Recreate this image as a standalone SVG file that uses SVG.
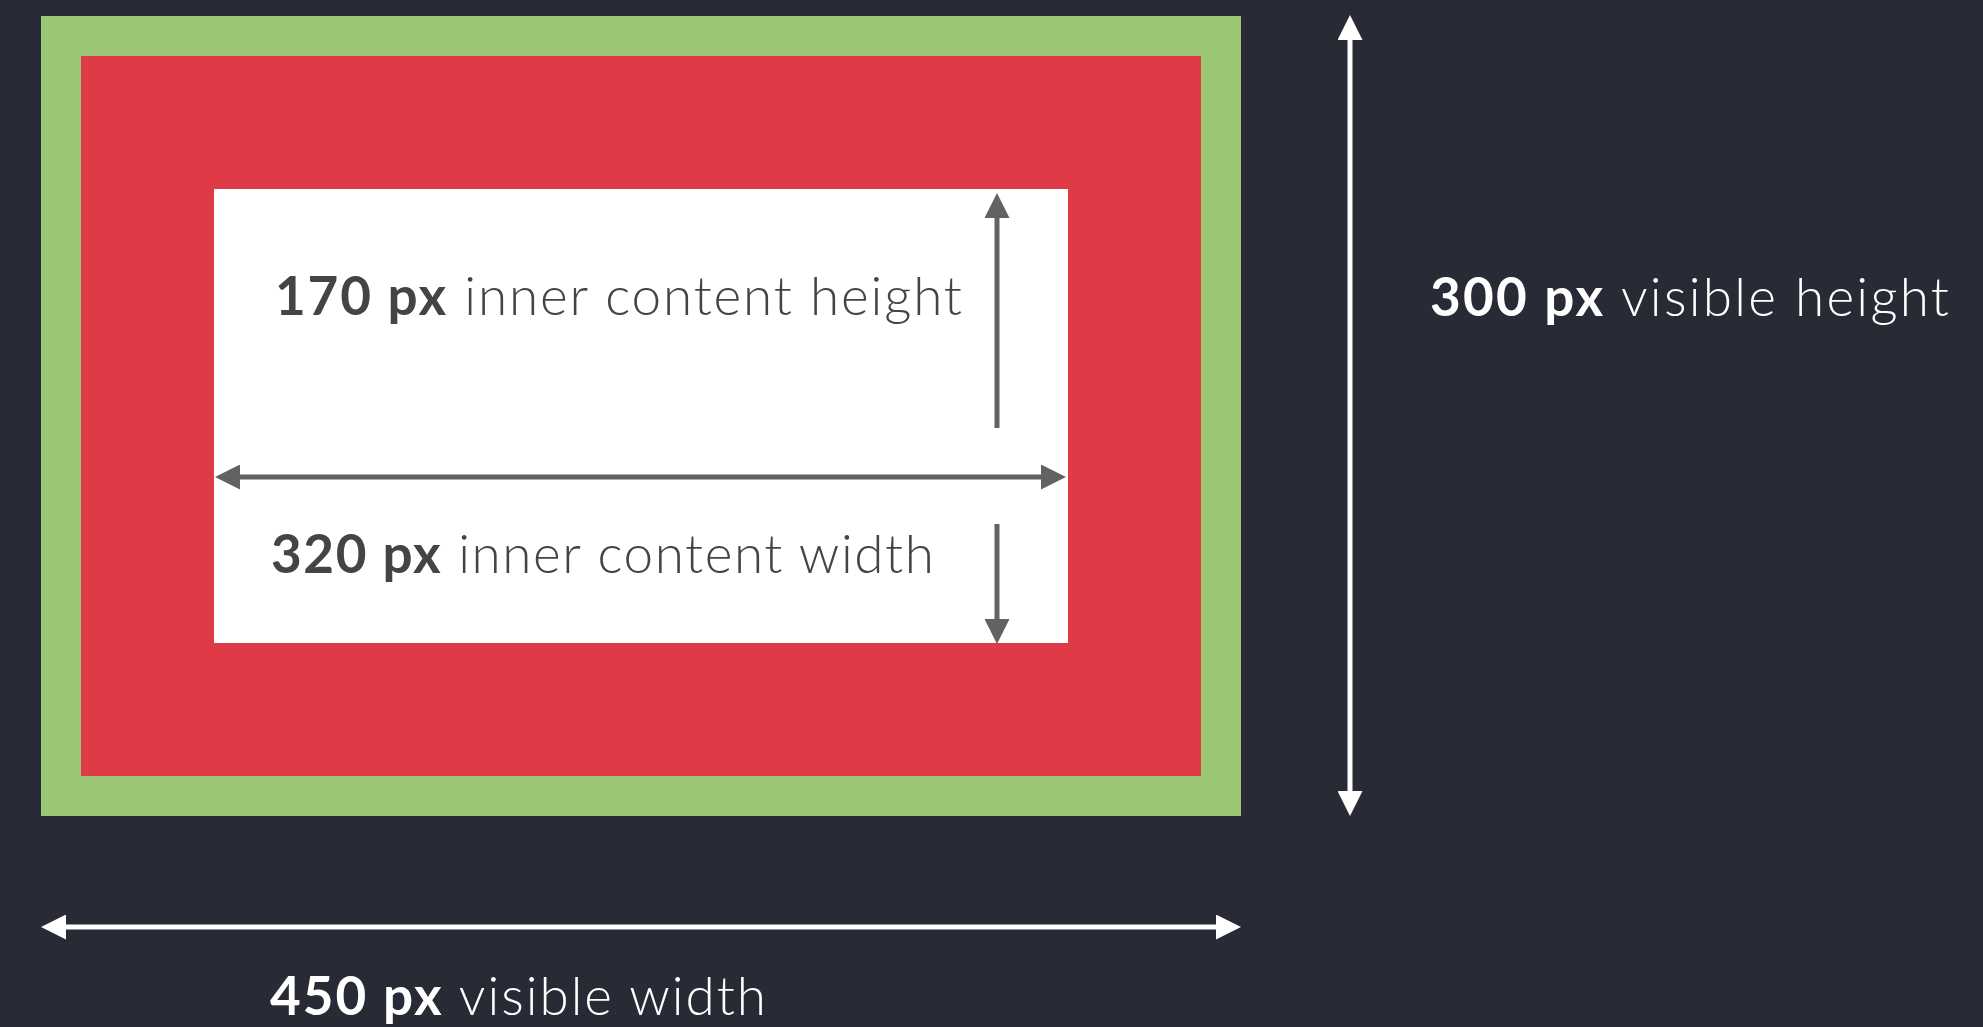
<svg xmlns="http://www.w3.org/2000/svg" width="1983" height="1027" viewBox="0 0 1983 1027">
  <style>
    .lbl { font-family: "Lato", "Noto Sans", "Liberation Sans", sans-serif; font-size: 53px; font-weight: 300; }
    .b { font-weight: 700; }
    .dark { fill: #444444; }
    .light { fill: #ffffff; }
    .ga { stroke: #626262; stroke-width: 5; fill: none; }
    .wa { stroke: #ffffff; stroke-width: 5; fill: none; }
  </style>
  <defs>
    <marker id="gh" markerUnits="userSpaceOnUse" markerWidth="25" markerHeight="25" refX="0" refY="12.5" orient="auto-start-reverse" viewBox="0 0 25 25">
      <path d="M0,0 L25,12.5 L0,25 Z" fill="#626262"/>
    </marker>
    <marker id="wh" markerUnits="userSpaceOnUse" markerWidth="25" markerHeight="25" refX="0" refY="12.5" orient="auto-start-reverse" viewBox="0 0 25 25">
      <path d="M0,0 L25,12.5 L0,25 Z" fill="#ffffff"/>
    </marker>
  </defs>
  <rect width="1983" height="1027" fill="#282a36"/>
  <g id="border-box">
    <rect x="41" y="16" width="1200" height="800" fill="#9bc774"/>
  </g>
  <g id="padding-box">
    <rect x="81" y="56" width="1120" height="720" fill="#de3b47"/>
  </g>
  <g id="content-box">
    <rect x="214" y="189" width="854" height="454" fill="#ffffff"/>
  </g>
  <g id="connectors">
    <line class="ga" x1="997" y1="428" x2="997" y2="218" marker-end="url(#gh)"/>
    <line class="ga" x1="997" y1="524" x2="997" y2="619" marker-end="url(#gh)"/>
    <line class="ga" x1="240" y1="477" x2="1041" y2="477" marker-start="url(#gh)" marker-end="url(#gh)"/>
    <line class="wa" x1="1350" y1="40" x2="1350" y2="791" marker-start="url(#wh)" marker-end="url(#wh)"/>
    <line class="wa" x1="66" y1="927" x2="1216" y2="927" marker-start="url(#wh)" marker-end="url(#wh)"/>
  </g>
  <g id="label-inner-height">
    <text class="lbl dark" x="275" y="315" textLength="687" lengthAdjust="spacing"><tspan class="b">170 px</tspan> inner content height</text>
  </g>
  <g id="label-inner-width">
    <text class="lbl dark" x="271" y="573" textLength="663" lengthAdjust="spacing"><tspan class="b">320 px</tspan> inner content width</text>
  </g>
  <g id="label-visible-height">
    <text class="lbl light" x="1430" y="316" textLength="519" lengthAdjust="spacing"><tspan class="b">300 px</tspan> visible height</text>
  </g>
  <g id="label-visible-width">
    <text class="lbl light" x="270" y="1015" textLength="496" lengthAdjust="spacing"><tspan class="b">450 px</tspan> visible width</text>
  </g>
</svg>
